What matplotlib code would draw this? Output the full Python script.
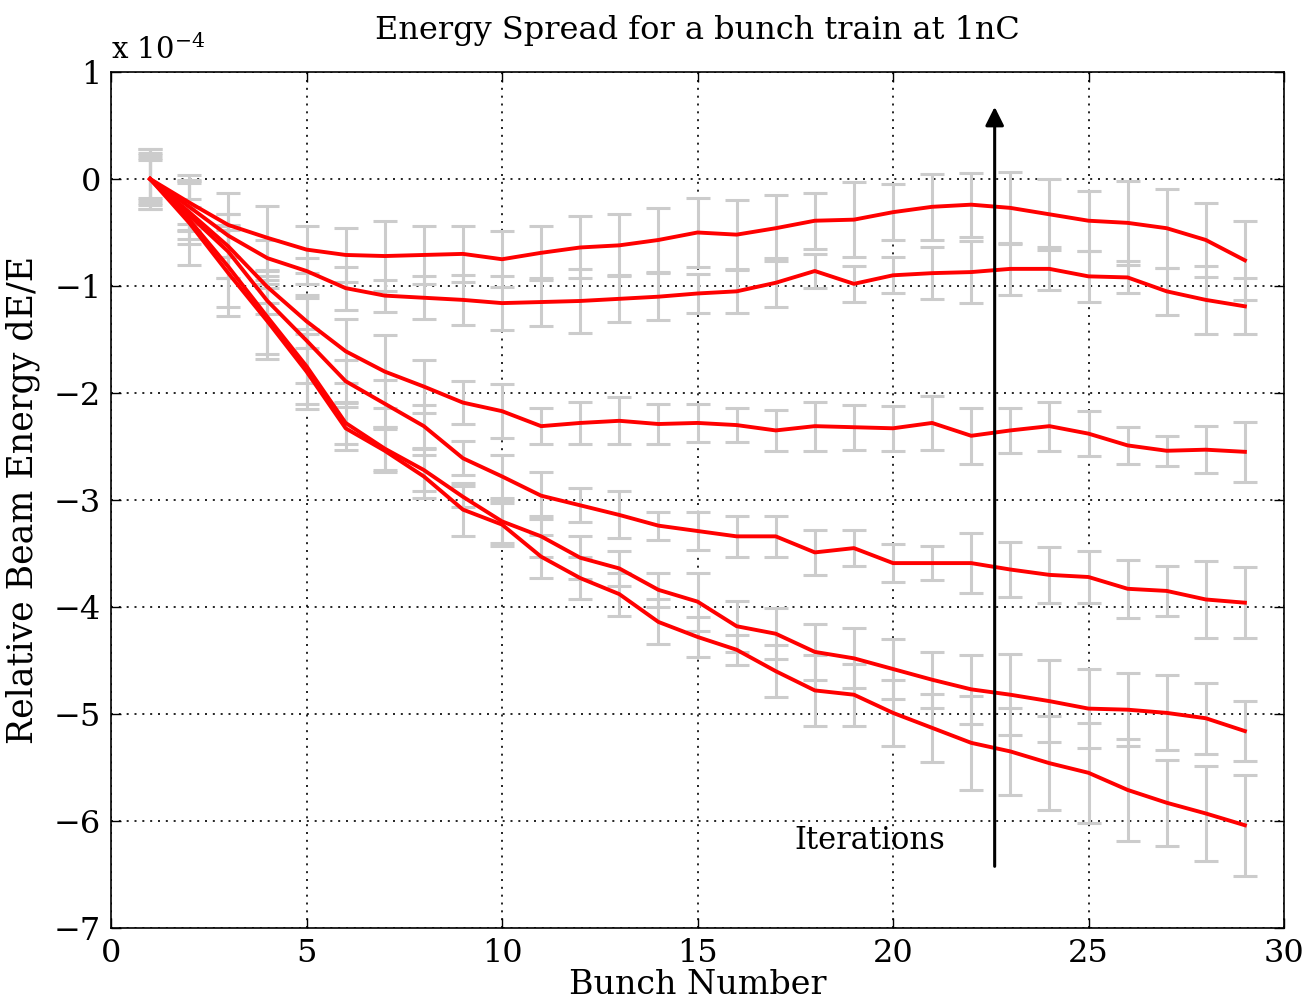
import matplotlib
matplotlib.use("Agg")
import matplotlib.pyplot as plt
import numpy as np

plt.rcParams['font.family'] = ['DejaVu Serif']
plt.rcParams['mathtext.fontset'] = 'dejavuserif'

# Bunch numbers
bunch = list(range(1, 30))

# Relative beam energy dE/E in units of 1e-4, one series per iteration (worst -> best)
iter1 = [0, -0.41, -0.88, -1.33, -1.80, -2.33, -2.54, -2.78, -3.09, -3.23, -3.53, -3.73, -3.88, -4.14, -4.28,
         -4.40, -4.60, -4.78, -4.82, -4.99, -5.13, -5.27, -5.35, -5.46, -5.55, -5.71, -5.83, -5.93, -6.04]
iter2 = [0, -0.38, -0.82, -1.29, -1.75, -2.28, -2.52, -2.72, -2.97, -3.20, -3.34, -3.54, -3.64, -3.84, -3.95,
         -4.18, -4.25, -4.42, -4.48, -4.58, -4.68, -4.77, -4.82, -4.88, -4.95, -4.96, -4.99, -5.04, -5.16]
iter3 = [0, -0.34, -0.68, -1.14, -1.51, -1.89, -2.10, -2.31, -2.61, -2.78, -2.96, -3.05, -3.14, -3.24, -3.29,
         -3.34, -3.34, -3.49, -3.45, -3.59, -3.59, -3.59, -3.65, -3.70, -3.72, -3.83, -3.85, -3.93, -3.96]
iter4 = [0, -0.31, -0.63, -1.01, -1.33, -1.61, -1.80, -1.94, -2.09, -2.17, -2.31, -2.28, -2.26, -2.29, -2.28,
         -2.30, -2.35, -2.31, -2.32, -2.33, -2.28, -2.40, -2.35, -2.31, -2.38, -2.49, -2.54, -2.53, -2.55]
iter5 = [0, -0.26, -0.53, -0.74, -0.86, -1.02, -1.09, -1.11, -1.13, -1.16, -1.15, -1.14, -1.12, -1.10, -1.07,
         -1.05, -0.97, -0.86, -0.98, -0.90, -0.88, -0.87, -0.84, -0.84, -0.91, -0.92, -1.05, -1.13, -1.19]
iter6 = [0, -0.22, -0.43, -0.55, -0.66, -0.71, -0.72, -0.71, -0.70, -0.75, -0.69, -0.64, -0.62, -0.57, -0.50,
         -0.52, -0.46, -0.39, -0.38, -0.31, -0.26, -0.24, -0.27, -0.33, -0.39, -0.41, -0.46, -0.57, -0.76]

# Error bar half-widths (units of 1e-4)
err1 = [0.24, 0.15, 0.40, 0.35, 0.35, 0.20, 0.20, 0.20, 0.25, 0.20, 0.20, 0.20, 0.20, 0.21, 0.19,
        0.14, 0.24, 0.33, 0.29, 0.31, 0.32, 0.44, 0.41, 0.44, 0.47, 0.48, 0.40, 0.44, 0.47]
err2 = [0.20, 0.42, 0.38, 0.35, 0.35, 0.20, 0.20, 0.20, 0.10, 0.20, 0.19, 0.20, 0.16, 0.16, 0.27,
        0.24, 0.24, 0.26, 0.28, 0.28, 0.26, 0.32, 0.38, 0.38, 0.37, 0.34, 0.35, 0.33, 0.28]
err3 = [0.28, 0.15, 0.25, 0.12, 0.40, 0.20, 0.22, 0.20, 0.16, 0.20, 0.22, 0.16, 0.22, 0.13, 0.18,
        0.19, 0.19, 0.21, 0.17, 0.18, 0.16, 0.28, 0.26, 0.26, 0.24, 0.27, 0.23, 0.36, 0.33]
err4 = [0.22, 0.30, 0.30, 0.15, 0.25, 0.30, 0.34, 0.25, 0.20, 0.25, 0.17, 0.20, 0.22, 0.19, 0.18,
        0.16, 0.19, 0.23, 0.21, 0.21, 0.25, 0.26, 0.21, 0.23, 0.21, 0.17, 0.14, 0.22, 0.28]
err5 = [0.18, 0.22, 0.20, 0.17, 0.12, 0.20, 0.15, 0.20, 0.23, 0.25, 0.22, 0.30, 0.22, 0.22, 0.18,
        0.20, 0.23, 0.16, 0.17, 0.17, 0.24, 0.29, 0.24, 0.20, 0.24, 0.15, 0.22, 0.32, 0.26]
err6 = [0.28, 0.20, 0.30, 0.30, 0.22, 0.25, 0.33, 0.27, 0.26, 0.26, 0.25, 0.29, 0.29, 0.30, 0.32,
        0.32, 0.31, 0.26, 0.35, 0.26, 0.31, 0.30, 0.34, 0.33, 0.28, 0.39, 0.37, 0.35, 0.37]

series = [iter1, iter2, iter3, iter4, iter5, iter6]
errors = [err1, err2, err3, err4, err5, err6]

title = "Energy Spread for a bunch train at 1nC"
xlabel = "Bunch Number"
ylabel = "Relative Beam Energy dE/E"
xticks = [0, 5, 10, 15, 20, 25, 30]
yticks = [1, 0, -1, -2, -3, -4, -5, -6, -7]

fig = plt.figure(figsize=(13.05, 10.07), dpi=100)
ax = fig.add_axes([0.0851, 0.0785, 0.8988, 0.8500])

for ys, es in zip(series, errors):
    ax.errorbar(bunch, ys, yerr=es, fmt='none', ecolor='#cccccc', elinewidth=2.2,
                capsize=8.5, capthick=2.2, zorder=2)
for ys in series:
    ax.plot(bunch, ys, color='#ff0000', lw=2.8, zorder=3)

ax.set_xlim(0, 30)
ax.set_ylim(-7, 1)
ax.set_xticks(xticks)
ax.set_yticks(yticks)
ax.set_yticklabels([("\u2212%d" % -v) if v < 0 else "%d" % v for v in yticks])
ax.tick_params(direction='in', length=7, width=1, top=True, right=True, labelsize=23, pad=7)
ax.grid(True, color='black', linestyle=(0, (1.2, 3.5)), linewidth=1.2)
for s in ax.spines.values():
    s.set_linewidth(1.2)

ax.set_title(title, fontsize=23, pad=24)
ax.set_xlabel(xlabel, fontsize=24, labelpad=0)
ax.set_ylabel(ylabel, fontsize=25, labelpad=10)
ax.text(0.0, 1.008, r"x 10$^{-4}$", transform=ax.transAxes, fontsize=21, ha='left', va='bottom')

ax.annotate("", xy=(22.6, 0.7), xytext=(22.6, -6.45),
            arrowprops=dict(arrowstyle='-|>', color='black', lw=2.2, mutation_scale=28), zorder=4)
ax.text(19.4, -6.18, "Iterations", fontsize=22, ha='center', va='center', zorder=4)

fig.savefig("out.png", dpi=100)
